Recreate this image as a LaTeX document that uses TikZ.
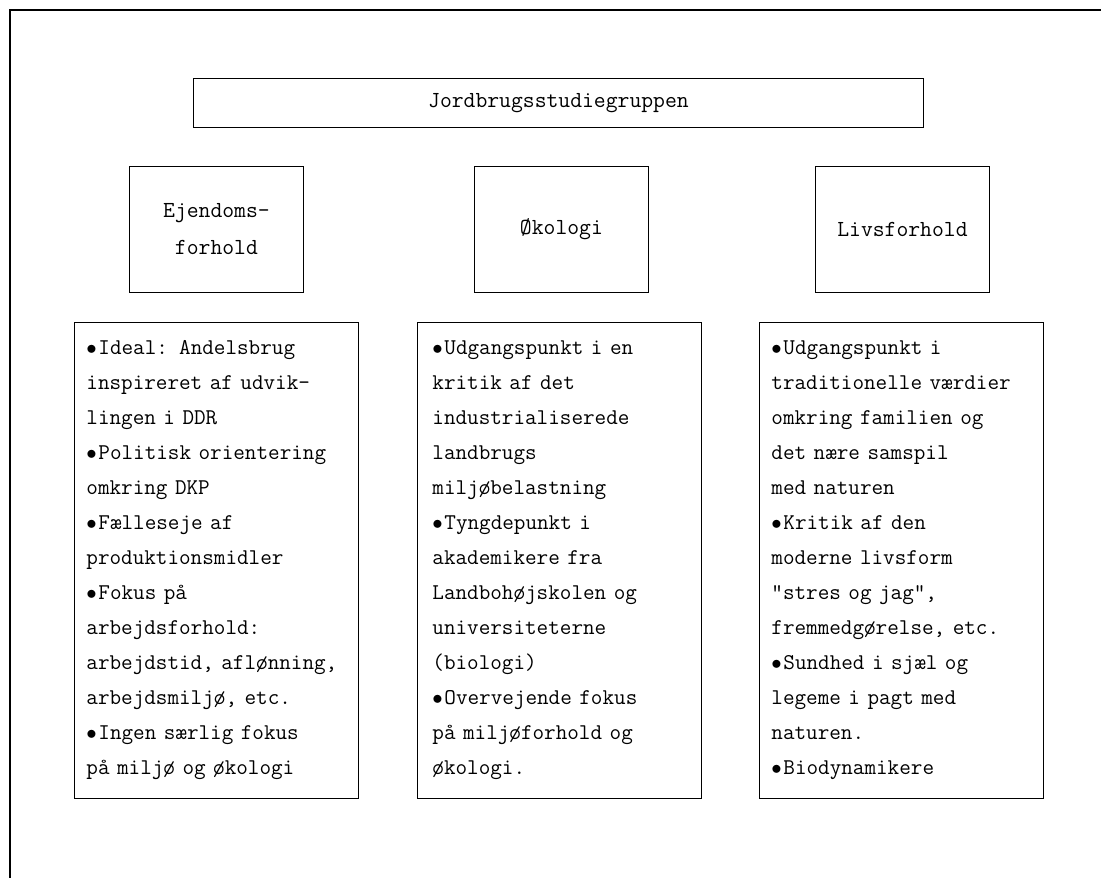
\documentclass[tikz,border=0pt]{standalone}
\usepackage{tikz}
\usepackage{amsmath,amssymb}

\newcommand{\bul}{\makebox[12pt][l]{$\bullet$}}

\begin{document}
\begin{tikzpicture}[x=1pt,y=-1pt,
    box/.style={draw,line width=0.9pt,anchor=north west,align=center,
      font=\ttfamily\fontsize{23}{37}\selectfont},
    list/.style={box,align=left,text width=260pt,inner xsep=12pt,
      minimum width=284pt,minimum height=476pt,
      font=\ttfamily\fontsize{22.5}{35}\selectfont}]
        \useasboundingbox (0,0) rectangle (1101,878);
        \draw[line width=2.5pt] (10,878) -- (10,10) -- (1101,10);

        \node[box,minimum width=730pt,minimum height=49pt] (J) at (193,78) {Jordbrugsstudiegruppen};

        \node[box,minimum width=174pt,minimum height=126pt] (E) at (129,166) {Ejendoms-\\forhold};
        \node[box,minimum width=174pt,minimum height=126pt] (O) at (474,166) {Økologi};
        \node[box,minimum width=174pt,minimum height=126pt] (L) at (815,166) {Livsforhold};

        \node[list] (E2) at (74,322) {\bul Ideal: Andelsbrug\\
          inspireret af udvik-\\ lingen i DDR\\
          \bul Politisk orientering\\ omkring DKP\\
          \bul Fælleseje af\\ produktionsmidler\\
          \bul Fokus på\\ arbejdsforhold:\\ arbejdstid, aflønning,\\ arbejdsmiljø, etc.\\
          \bul Ingen særlig fokus\\ på miljø og økologi};
        \node[list,inner xsep=15pt,text width=254pt] (O2) at (417,322) {\bul Udgangspunkt i en\\
          kritik af det\\ industrialiserede\\ landbrugs\\ miljøbelastning\\
          \bul Tyngdepunkt i\\ akademikere fra\\ Landbohøjskolen og\\ universiteterne\\ (biologi)\\
          \bul Overvejende fokus\\ på miljøforhold og\\ økologi.};
        \node[list] (L2) at (759,322) {\bul Udgangspunkt i\\
          traditionelle værdier\\ omkring familien og\\ det nære samspil\\ med naturen\\
          \bul Kritik af den\\ moderne livsform\\ ”stres og jag”,\\ fremmedgørelse, etc.\\
          \bul Sundhed i sjæl og\\ legeme i pagt med\\ naturen.\\
          \bul Biodynamikere};

      \end{tikzpicture}
\end{document}
